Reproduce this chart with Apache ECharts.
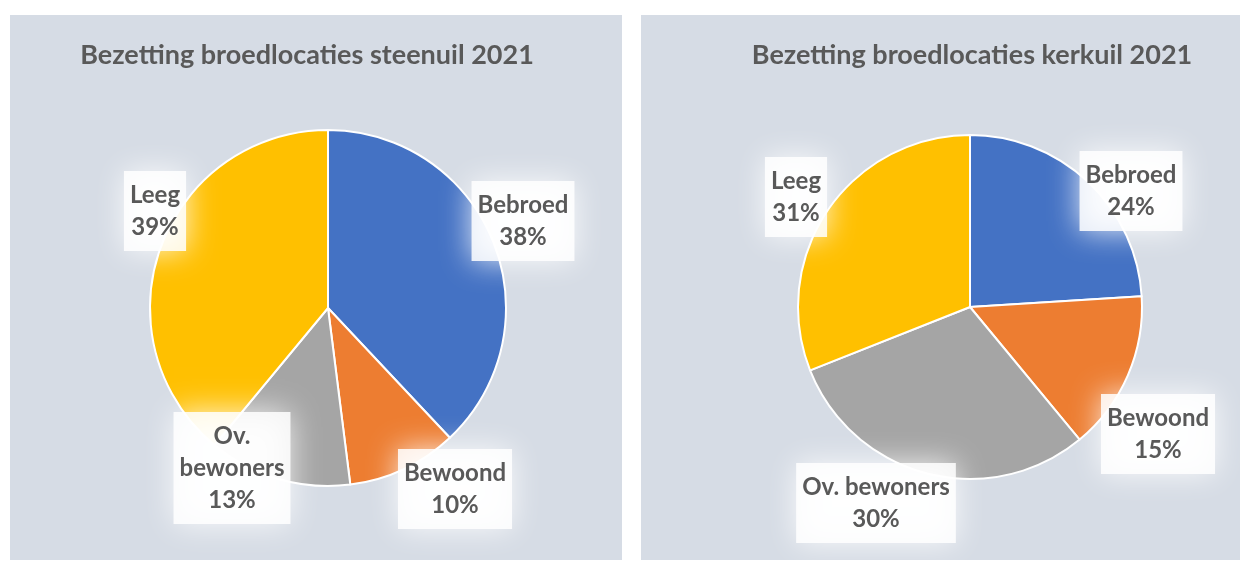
<!DOCTYPE html>
<html>
<head>
<meta charset="utf-8">
<script src="https://cdn.jsdelivr.net/npm/echarts@6/dist/echarts.min.js"></script>
<style>
  body { margin:0; background:#fff; width:1247px; height:563px; position:relative; overflow:hidden; }
  .panel { position:absolute; top:15px; height:545px; background:#D6DCE5; }
  #steenuil { left:10px; width:612px; }
  #kerkuil { left:641px; width:599px; }
</style>
</head>
<body>
<div id="steenuil" class="panel"></div>
<div id="kerkuil" class="panel"></div>
<script>
var categories = ['Bebroed', 'Bewoond', 'Ov. bewoners', 'Leeg'];
var steenuilValues = [38, 10, 13, 39];
var kerkuilValues = [24, 15, 30, 31];
var sliceColors = ['#4472C4', '#ED7D31', '#A5A5A5', '#FFC000'];

// label texts per chart (steenuil breaks 'Ov. bewoners' over two lines)
var steenuilNames = ['Bebroed', 'Bewoond', 'Ov.\nbewoners', 'Leeg'];
var kerkuilNames = ['Bebroed', 'Bewoond', 'Ov. bewoners', 'Leeg'];

// label centres inside each panel (Excel "best fit" spots)
var steenuilLabelPos = [[513, 206], [445, 474], [222, 453], [145, 196]];
var kerkuilLabelPos = [[490, 176], [517, 419], [235, 488], [155, 182]];

function pieChart(el, title, titleX, values, names, center, radius, labelPos) {
    var myChart = echarts.init(document.getElementById(el));
    var option = {
        animation: false,
        title: {
            text: title,
            left: titleX,
            textAlign: 'center',
            top: 22,
            textStyle: {
                color: '#595959',
                fontFamily: 'Lato',
                fontWeight: 'bold',
                fontSize: 27
            }
        },
        series: [{
            type: 'pie',
            center: center,
            radius: radius,
            startAngle: 90,
            clockwise: true,
            avoidLabelOverlap: false,
            itemStyle: {
                borderColor: '#fff',
                borderWidth: 2
            },
            labelLine: { show: false },
            label: {
                show: true,
                position: 'outside',
                formatter: function (p) {
                    return names[p.dataIndex] + '\n' + p.value + '%';
                },
                color: '#595959',
                fontFamily: 'Lato',
                fontWeight: 'bold',
                fontSize: 24,
                lineHeight: 32,
                align: 'center',
                backgroundColor: 'rgba(255,255,255,0.85)',
                padding: [8, 6],
                shadowColor: '#ffffff',
                shadowBlur: 30
            },
            labelLayout: function (params) {
                var pos = labelPos[params.dataIndex];
                return {
                    x: pos[0],
                    y: pos[1],
                    align: 'center',
                    verticalAlign: 'middle'
                };
            },
            data: categories.map(function (c, i) {
                return { name: c, value: values[i], itemStyle: { color: sliceColors[i] } };
            })
        }]
    };
    myChart.setOption(option);
}

pieChart('steenuil', 'Bezetting broedlocaties steenuil 2021', 292, steenuilValues, steenuilNames, [318, 293], 178, steenuilLabelPos);
pieChart('kerkuil', 'Bezetting broedlocaties kerkuil 2021', 326, kerkuilValues, kerkuilNames, [329, 292], 172, kerkuilLabelPos);
</script>
</body>
</html>
